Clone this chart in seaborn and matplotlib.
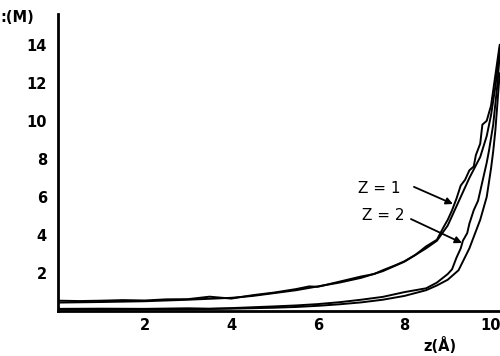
import numpy as np
import pandas as pd
import matplotlib
matplotlib.use("Agg")
import matplotlib.pyplot as plt
import seaborn as sns

# ==========================================================
# DATA
# ==========================================================

z1_theory_x = [0, 1, 2, 3, 4, 4.5, 5, 5.5, 6, 6.5, 7, 7.5, 8, 8.25, 8.5,
               8.75, 9, 9.25, 9.5, 9.75, 9.9, 10, 10.1, 10.2]
z1_theory_y = [0.45, 0.48, 0.52, 0.6, 0.7, 0.8, 0.95, 1.1, 1.3, 1.5, 1.75,
               2.1, 2.6, 2.95, 3.3, 3.7, 4.5, 5.75, 7.0, 8.1, 9.2, 10.3,
               11.8, 13.8]

z1_sim_x = [0, 0.5, 1, 1.5, 2, 2.5, 3, 3.5, 4, 4.5, 5, 5.5, 5.8, 6, 6.5, 7,
            7.3, 7.5, 7.8, 8, 8.25, 8.5, 8.75, 8.9, 9, 9.1, 9.2, 9.3, 9.4,
            9.5, 9.6, 9.65, 9.75, 9.8, 9.9, 10, 10.1, 10.2]
z1_sim_y = [0.55, 0.53, 0.55, 0.58, 0.56, 0.62, 0.63, 0.76, 0.66, 0.84,
            0.98, 1.16, 1.3, 1.28, 1.55, 1.82, 1.95, 2.15, 2.42, 2.62, 2.95,
            3.4, 3.75, 4.4, 4.8, 5.3, 5.9, 6.6, 6.9, 7.4, 7.6, 8.2, 8.8,
            9.8, 10.0, 10.8, 12.4, 14.0]

z2_theory_x = [0, 1, 2, 3, 4, 5, 5.5, 6, 6.5, 7, 7.5, 8, 8.25, 8.5, 8.75,
               9, 9.25, 9.5, 9.6, 9.75, 9.9, 10, 10.05, 10.1, 10.2]
z2_theory_y = [0.08, 0.08, 0.09, 0.1, 0.13, 0.18, 0.22, 0.28, 0.36, 0.46,
               0.6, 0.8, 0.95, 1.1, 1.35, 1.65, 2.15, 3.3, 3.9, 4.8, 6.0,
               7.5, 8.4, 9.5, 12.5]

z2_sim_x = [0, 1, 2, 3, 3.5, 4, 5, 5.5, 6, 6.5, 7, 7.5, 8, 8.25, 8.5, 8.75,
            9, 9.1, 9.2, 9.3, 9.35, 9.45, 9.5, 9.6, 9.7, 9.8, 9.9, 9.95,
            10.05, 10.15, 10.2]
z2_sim_y = [0.12, 0.13, 0.12, 0.15, 0.13, 0.16, 0.25, 0.3, 0.37, 0.47, 0.6,
            0.75, 1.0, 1.1, 1.2, 1.5, 1.95, 2.2, 2.8, 3.3, 3.7, 4.1, 4.6,
            5.3, 5.8, 6.8, 7.8, 8.4, 9.8, 12.0, 13.5]

x_ticks = [2, 4, 6, 8, 10]
y_ticks = [2, 4, 6, 8, 10, 12, 14]

# ==========================================================
# PLOT
# ==========================================================

sns.set_style("white")
plt.rcParams["font.family"] = ["DejaVu Sans"]
plt.rcParams["text.color"] = "black"

fig = plt.figure(figsize=(5, 3.56), dpi=100)
ax = fig.add_axes([0.116, 0.126, 0.886, 0.834])

for xs, ys in [(z1_theory_x, z1_theory_y), (z1_sim_x, z1_sim_y),
               (z2_theory_x, z2_theory_y), (z2_sim_x, z2_sim_y)]:
    sns.lineplot(x=xs, y=ys, ax=ax, color="black", linewidth=1.4,
                 sort=False, estimator=None)

ax.set_xlim(0, 10.23)
ax.set_ylim(0, 15.6)

ax.set_xticks(x_ticks)
ax.set_yticks(y_ticks)
ax.set_xticks(np.arange(1, 11, 1), minor=True)
ax.set_yticks(np.arange(1, 16, 1), minor=True)
ax.tick_params(axis="both", which="both", direction="in", length=4,
               width=1.3, color="black", labelcolor="black")
ax.tick_params(axis="y", which="major", pad=8)
ax.tick_params(axis="x", which="major", pad=5)
for lab in ax.get_xticklabels() + ax.get_yticklabels():
    lab.set_fontsize(10.5)
    lab.set_fontweight("bold")

sns.despine(ax=ax)
for side in ["left", "bottom"]:
    ax.spines[side].set_linewidth(2)
    ax.spines[side].set_color("black")

# axis labels placed like the scan
fig.text(0.0, 0.95, ":(M)", fontsize=10.5, fontweight="bold", va="center")
fig.text(0.88, 0.005, "z(Å)", fontsize=10.5, fontweight="bold",
         ha="center", va="bottom")

# annotations
ax.text(7.43, 6.47, "Z = 1", fontsize=11, ha="center", va="center")
ax.text(7.5, 5.0, "Z = 2", fontsize=11, ha="center", va="center")
ax.annotate("", xy=(9.12, 5.63), xytext=(8.22, 6.53),
            arrowprops=dict(arrowstyle="-|>", color="black", lw=1.3,
                            shrinkA=0, shrinkB=0))
ax.annotate("", xy=(9.33, 3.58), xytext=(8.15, 4.84),
            arrowprops=dict(arrowstyle="-|>", color="black", lw=1.3,
                            shrinkA=0, shrinkB=0))

plt.savefig("out.png", dpi=100)
plt.close()
